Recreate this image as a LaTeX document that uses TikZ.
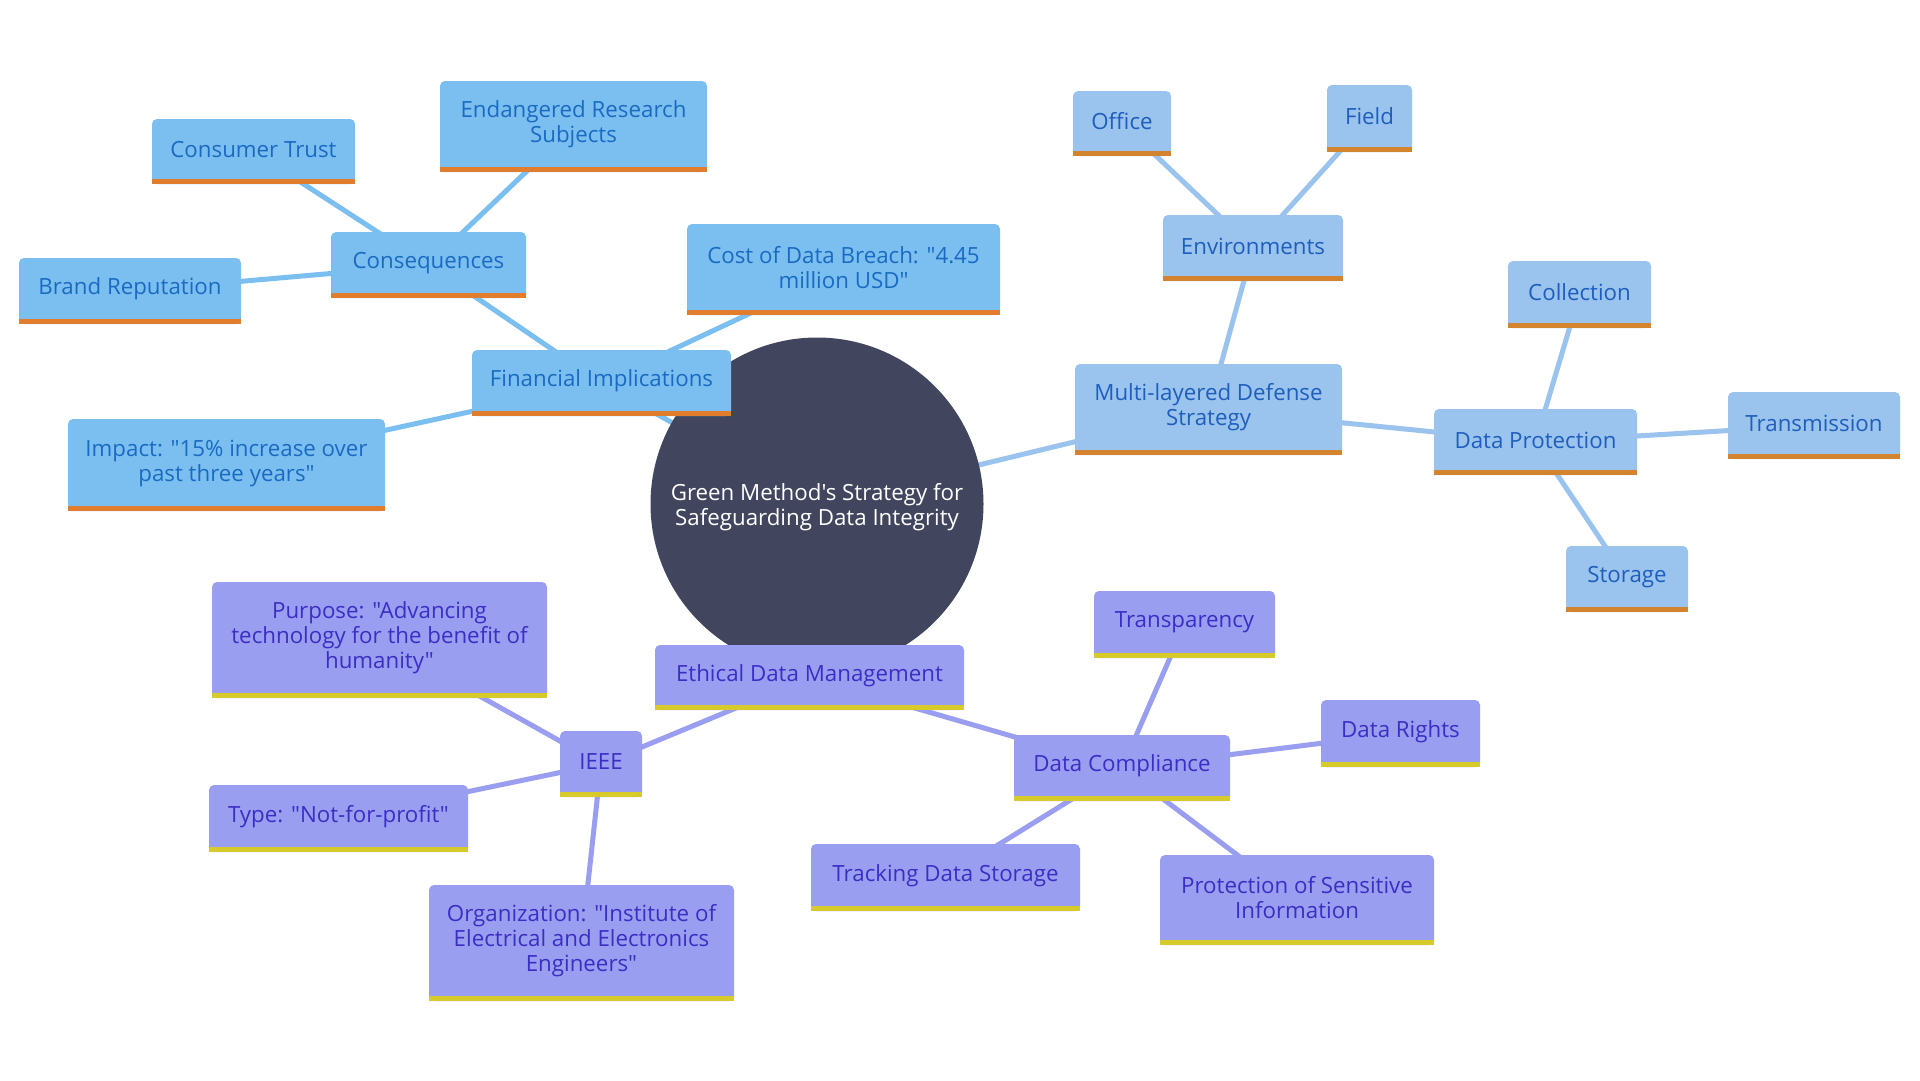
\documentclass[tikz,border=0pt]{standalone}
\usepackage{fontspec}
\setmainfont{Open Sans}[Ligatures=TeXOff]
\definecolor{lfill}{HTML}{7BBFF0}
\definecolor{ltext}{HTML}{1A6AC2}
\definecolor{lbarc}{HTML}{E27D2E}
\definecolor{rfill}{HTML}{9AC3EE}
\definecolor{rtext}{HTML}{1E5EBC}
\definecolor{rbarc}{HTML}{D4832E}
\definecolor{pfill}{HTML}{9A9EF0}
\definecolor{ptext}{HTML}{3A2EC4}
\definecolor{pbarc}{HTML}{D6CB2A}
\definecolor{hubc}{HTML}{41465E}
\pgfdeclarelayer{background}
\pgfsetlayers{background,main}
% #1 box style, #2 bar style, #3 name, #4 centre, #5 width, #6 height, #7 text
\newcommand\mmbox[7]{%
  \node[#1, minimum width=#5pt, minimum height=#6pt] (#3) at (#4) {};
  \fill[#2] (#3.south west) rectangle ([yshift=5pt]#3.south east);
  \node[#1label] (#3-t) at ([yshift=2pt]#3.center) {#7};}
\begin{document}
\begin{tikzpicture}[x=1pt,y=-1pt,
  box/.style={rounded corners=5pt, inner sep=0pt},
  lab/.style={inner sep=0pt, align=center, font=\fontsize{22.3}{25}\selectfont},
  lbox/.style={box, fill=lfill},
  rbox/.style={box, fill=rfill},
  pbox/.style={box, fill=pfill},
  lboxlabel/.style={lab, text=ltext},
  rboxlabel/.style={lab, text=rtext},
  pboxlabel/.style={lab, text=ptext},
  lbar/.style={fill=lbarc},
  rbar/.style={fill=rbarc},
  pbar/.style={fill=pbarc},
  ledge/.style={draw=lfill, line width=5pt},
  redge/.style={draw=rfill, line width=5pt},
  pedge/.style={draw=pfill, line width=5pt},
  hub/.style={circle, fill=hubc, minimum size=333pt, inner sep=0pt},
  hublabel/.style={lab, text=white}]
\useasboundingbox (0,0) rectangle (1920,1080);

\node[hub] (c) at (817,504) {};
\node[hublabel] (c-t) at ([yshift=-3.5pt]c.center) {Green Method's Strategy for\\Safeguarding Data Integrity};

% left branch
\mmbox{lbox}{lbar}{ct}{253.5,151.5}{203}{65}{Consumer Trust}
\mmbox{lbox}{lbar}{ers}{573.5,126.5}{267}{91}{Endangered Research\\Subjects}
\mmbox{lbox}{lbar}{cons}{428.5,265}{195}{66}{Consequences}
\mmbox{lbox}{lbar}{br}{130,291}{222}{66}{Brand Reputation}
\mmbox{lbox}{lbar}{fin}{601.5,383}{259}{66}{Financial Implications}
\mmbox{lbox}{lbar}{imp}{226.5,465}{317}{92}{Impact: "15\% increase over\\past three years"}
\mmbox{lbox}{lbar}{cost}{843.5,269.5}{313}{91}{Cost of Data Breach: "4.45\\million USD"}

% right branch
\mmbox{rbox}{rbar}{off}{1122,123.5}{98}{65}{Office}
\mmbox{rbox}{rbar}{fld}{1369.5,118.5}{85}{67}{Field}
\mmbox{rbox}{rbar}{env}{1253,248}{180}{66}{Environments}
\mmbox{rbox}{rbar}{mlds}{1208.5,409.5}{267}{91}{Multi-layered Defense\\Strategy}
\mmbox{rbox}{rbar}{dp}{1535.5,442}{203}{66}{Data Protection}
\mmbox{rbox}{rbar}{col}{1579.5,294.5}{143}{67}{Collection}
\mmbox{rbox}{rbar}{tr}{1814,425.5}{172}{67}{Transmission}
\mmbox{rbox}{rbar}{sto}{1627,579}{122}{66}{Storage}

% purple branch
\mmbox{pbox}{pbar}{pur}{379.5,640}{335}{116}{Purpose: "Advancing\\technology for the benefit of\\humanity"}
\mmbox{pbox}{pbar}{ieee}{601,764}{82}{66}{IEEE}
\mmbox{pbox}{pbar}{type}{338.5,818.5}{259}{67}{Type: "Not-for-profit"}
\mmbox{pbox}{pbar}{org}{581.5,943}{305}{116}{Organization: "Institute of\\Electrical and Electronics\\Engineers"}
\mmbox{pbox}{pbar}{edm}{809.5,677.5}{309}{65}{Ethical Data Management}
\mmbox{pbox}{pbar}{tra}{1184.5,624.5}{181}{67}{Transparency}
\mmbox{pbox}{pbar}{dc}{1122,768}{216}{66}{Data Compliance}
\mmbox{pbox}{pbar}{dr}{1400.5,733.5}{159}{67}{Data Rights}
\mmbox{pbox}{pbar}{tds}{945.5,877.5}{269}{67}{Tracking Data Storage}
\mmbox{pbox}{pbar}{pro}{1297,900}{274}{90}{Protection of Sensitive\\Information}

\begin{pgfonlayer}{background}
\fill[white] (0,0) rectangle (1920,1080);
\path[ledge] (cons.center) -- (ct.center);
\path[ledge] (cons.center) -- (ers.center);
\path[ledge] (cons.center) -- (br.center);
\path[ledge] (fin.center) -- (cons.center);
\path[ledge] (fin.center) -- (imp.center);
\path[ledge] (fin.center) -- (cost.center);
\path[ledge] (c.center) -- (fin.center);
\path[redge] (c.center) -- (mlds.center);
\path[redge] (mlds.center) -- (env.center);
\path[redge] (env.center) -- (off.center);
\path[redge] (env.center) -- (fld.center);
\path[redge] (mlds.center) -- (dp.center);
\path[redge] (dp.center) -- (col.center);
\path[redge] (dp.center) -- (tr.center);
\path[redge] (dp.center) -- (sto.center);
\path[pedge] (c.center) -- (edm.center);
\path[pedge] (edm.center) -- (ieee.center);
\path[pedge] (ieee.center) -- (pur.center);
\path[pedge] (ieee.center) -- (type.center);
\path[pedge] (ieee.center) -- (org.center);
\path[pedge] (edm.center) -- (dc.center);
\path[pedge] (dc.center) -- (tra.center);
\path[pedge] (dc.center) -- (dr.center);
\path[pedge] (dc.center) -- (tds.center);
\path[pedge] (dc.center) -- (pro.center);
\end{pgfonlayer}
\end{tikzpicture}
\end{document}
